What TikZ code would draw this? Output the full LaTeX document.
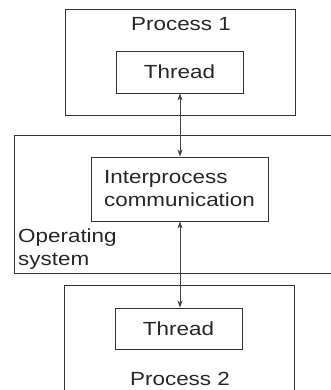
\documentclass[tikz,border=0pt]{standalone}
\usepackage{fontspec}
\setmainfont[FakeStretch=1.18]{Liberation Sans}
\usetikzlibrary{arrows.meta}
\begin{document}
\begin{tikzpicture}[x=1pt,y=-1pt,
  box/.style={draw=black!80,line width=0.9pt,inner sep=0pt,minimum width=#1},
  lbl/.style={font=\fontsize{19}{23}\selectfont,text=black!85,inner sep=0pt},
  link/.style={draw=black!75,line width=0.8pt,{Stealth[length=7pt,width=5pt]}-{Stealth[length=7pt,width=5pt]}}]
\useasboundingbox (0,0) rectangle (331,390);
\clip (0,0) rectangle (331,390);
% Process 1
\node[box=230pt,minimum height=106pt] (p1) at (180,62) {};
\node[lbl] (p1l) at (181,24) {Process 1};
\node[box=127pt,minimum height=42pt,lbl] (t1) at (179.5,72) {Thread};
% Operating system
\node[box=331pt,minimum height=138pt] (os) at (179.5,204) {};
\node[lbl,align=left,anchor=west] (osl) at (18,249) {Operating\\system};
\node[box=177pt,minimum height=64pt,lbl,align=left] (ipc) at (179.5,189) {Interprocess\\communication};
% Process 2
\node[box=230pt,minimum height=118pt] (p2) at (179,344) {};
\node[lbl] (p2l) at (180,379) {Process 2};
\node[box=127pt,minimum height=41pt,lbl] (t2) at (178.5,328.5) {Thread};
% connectors
\draw[link] (t1.south -| 180,0) -- (ipc.north -| 180,0);
\draw[link] (ipc.south -| 180,0) -- (t2.north -| 180,0);
\end{tikzpicture}
\end{document}
